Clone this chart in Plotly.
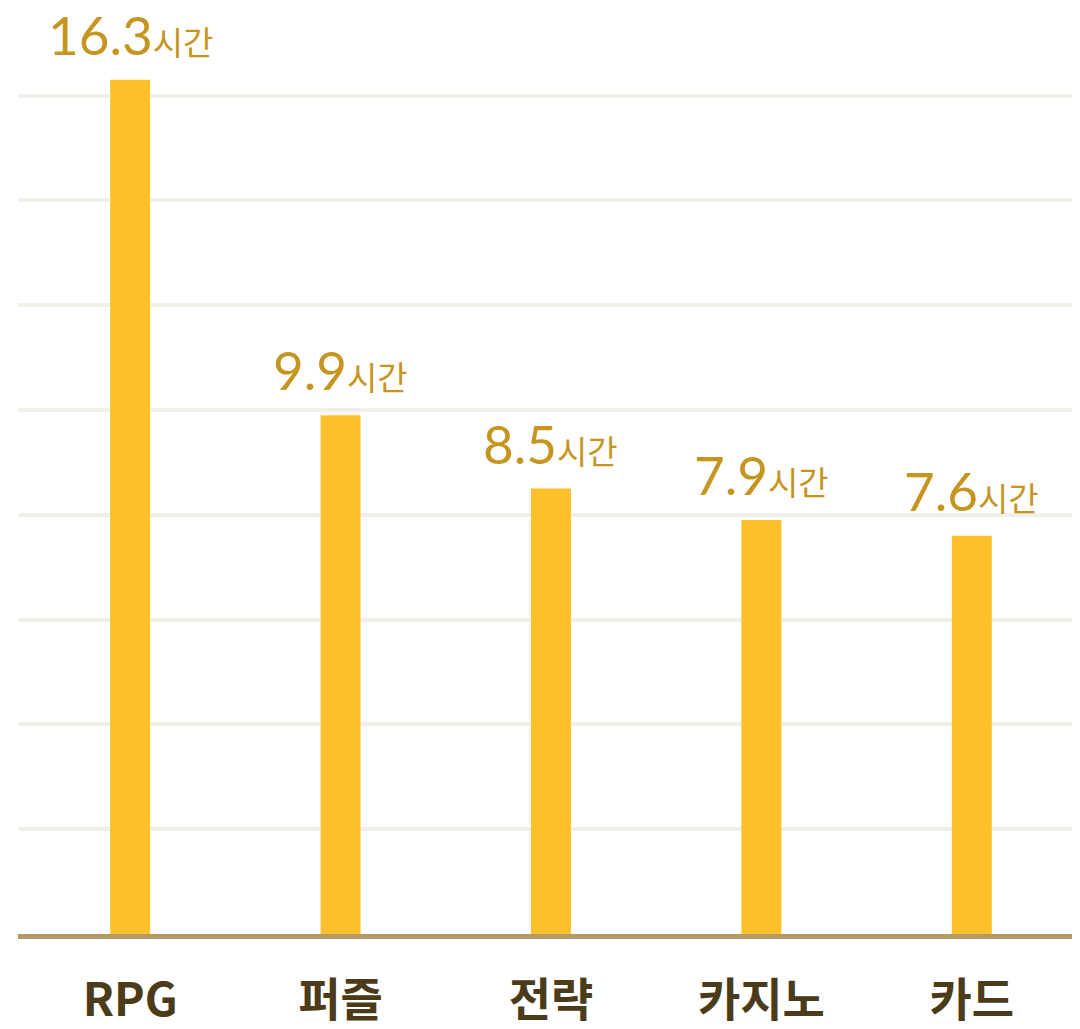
import plotly.graph_objects as go

categories = ["RPG", "퍼즐", "전략", "카지노", "카드"]
hours = [16.3, 9.9, 8.5, 7.9, 7.6]
unit = "시간"

bar_color = "#FDC02B"
label_color = "#C6951F"
tick_color = "#4B3B19"

fig = go.Figure()
fig.add_trace(go.Bar(
    x=categories, y=hours, width=0.19,
    marker=dict(color=bar_color, line=dict(width=0)),
    hoverinfo="skip",
))

for c, v in zip(categories, hours):
    fig.add_annotation(
        x=c, y=v, xref="x", yref="y",
        text=f"{v}<span style='font-size:33px'>{unit}</span>",
        showarrow=False, yanchor="bottom", xanchor="center", yshift=12,
        font=dict(family="Lato, 'Noto Sans CJK KR'", size=53, color=label_color),
    )

fig.update_layout(
    width=1072, height=1021,
    margin=dict(l=10, r=3, t=0, b=93),
    paper_bgcolor="white", plot_bgcolor="white",
    showlegend=False,
    bargap=0.81,
)
fig.update_xaxes(
    type="category", range=[-0.533, 4.5],
    showgrid=False, showline=True, linecolor="#B39A62", linewidth=5,
    ticks="", ticklabelstandoff=22,
    tickfont=dict(family="'Noto Sans CJK KR'", size=46, color=tick_color, weight="bold"),
)
fig.update_yaxes(
    range=[0, 17.67], dtick=2, showgrid=True, gridcolor="#F1EFE8", gridwidth=4,
    zeroline=False, showticklabels=False, showline=False,
)

fig.write_html("out.html")
